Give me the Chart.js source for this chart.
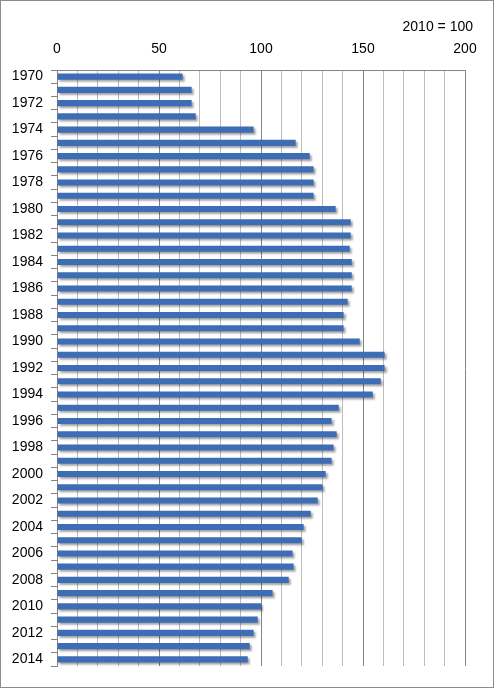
<!DOCTYPE html>
<html>
<head>
<meta charset="utf-8">
<script src="https://cdn.jsdelivr.net/npm/chart.js@4"></script>
<style>
  html, body { margin: 0; padding: 0; background: #fff; }
  #wrap { width: 494px; height: 688px; box-sizing: border-box; border: 1px solid #8c8c8c; }
</style>
</head>
<body>
<div id="wrap"><canvas id="chart"></canvas></div>
<script>
const years = ['1970', '1971', '1972', '1973', '1974', '1975', '1976', '1977', '1978', '1979',
  '1980', '1981', '1982', '1983', '1984', '1985', '1986', '1987', '1988', '1989',
  '1990', '1991', '1992', '1993', '1994', '1995', '1996', '1997', '1998', '1999',
  '2000', '2001', '2002', '2003', '2004', '2005', '2006', '2007', '2008', '2009',
  '2010', '2011', '2012', '2013', '2014'];
const index = [61.6, 66.0, 66.0, 68.0, 96.4, 117.0, 123.9, 125.8, 125.8, 125.8,
  136.6, 144.0, 144.0, 143.5, 144.5, 144.5, 144.5, 142.5, 140.5, 140.5,
  148.4, 160.6, 160.6, 158.7, 154.8, 138.1, 134.6, 137.1, 135.6, 134.6,
  131.7, 130.2, 127.8, 124.4, 120.9, 120.0, 115.5, 116.0, 113.6, 105.7,
  100.0, 98.4, 96.4, 94.5, 93.5];
const xTickLabels = [0, 50, 100, 150, 200];
const baseNote = '2010 = 100';

const font = { family: '"Liberation Sans", Arial, sans-serif', size: 14 };

// small note above the axis, right of the plot
const notePlugin = {
  id: 'note',
  afterDraw(chart) {
    const ctx = chart.ctx;
    ctx.save();
    ctx.font = '14px "Liberation Sans", Arial, sans-serif';
    ctx.fillStyle = '#000';
    ctx.textAlign = 'right';
    ctx.textBaseline = 'middle';
    ctx.fillText(baseNote, chart.chartArea.right + 8, 26);
    ctx.restore();
  }
};

// soft drop shadow under the bars
const shadowPlugin = {
  id: 'barShadow',
  beforeDatasetDraw(chart) {
    const ctx = chart.ctx;
    ctx.save();
    ctx.shadowColor = 'rgba(0,0,0,0.35)';
    ctx.shadowOffsetX = 2;
    ctx.shadowOffsetY = 2;
    ctx.shadowBlur = 2;
  },
  afterDatasetDraw(chart) {
    chart.ctx.restore();
  }
};

new Chart(document.getElementById('chart'), {
  type: 'bar',
  data: {
    labels: years,
    datasets: [{
      data: index,
      backgroundColor: '#3c6db5',
      borderWidth: 0,
      barPercentage: 0.46,
      categoryPercentage: 1
    }]
  },
  options: {
    indexAxis: 'y',
    responsive: true,
    maintainAspectRatio: false,
    animation: false,
    layout: { padding: { top: 39, right: 28, bottom: 21, left: 0 } },
    plugins: {
      legend: { display: false },
      tooltip: { enabled: false }
    },
    scales: {
      x: {
        position: 'top',
        min: 0,
        max: 200,
        afterFit(scale) { scale.height = 30; },
        ticks: {
          stepSize: 10,
          autoSkip: false,
          maxRotation: 0,
          padding: 12,
          color: '#000',
          font: font,
          callback: v => xTickLabels.includes(v) ? String(v) : ''
        },
        grid: {
          drawTicks: false,
          color: c => (c.tick && c.tick.value % 50 === 0) ? '#858585' : '#bdbdbd'
        },
        border: { display: true, color: '#858585' }
      },
      y: {
        afterFit(scale) { scale.width = 56; },
        ticks: {
          autoSkip: false,
          padding: 8,
          color: '#000',
          font: font,
          callback: (v, i) => i % 2 === 0 ? years[i] : ''
        },
        grid: {
          drawOnChartArea: false,
          drawTicks: true,
          tickLength: 6,
          color: '#858585'
        },
        border: { display: true, color: '#858585' }
      }
    }
  },
  plugins: [notePlugin, shadowPlugin]
});
</script>
</body>
</html>
